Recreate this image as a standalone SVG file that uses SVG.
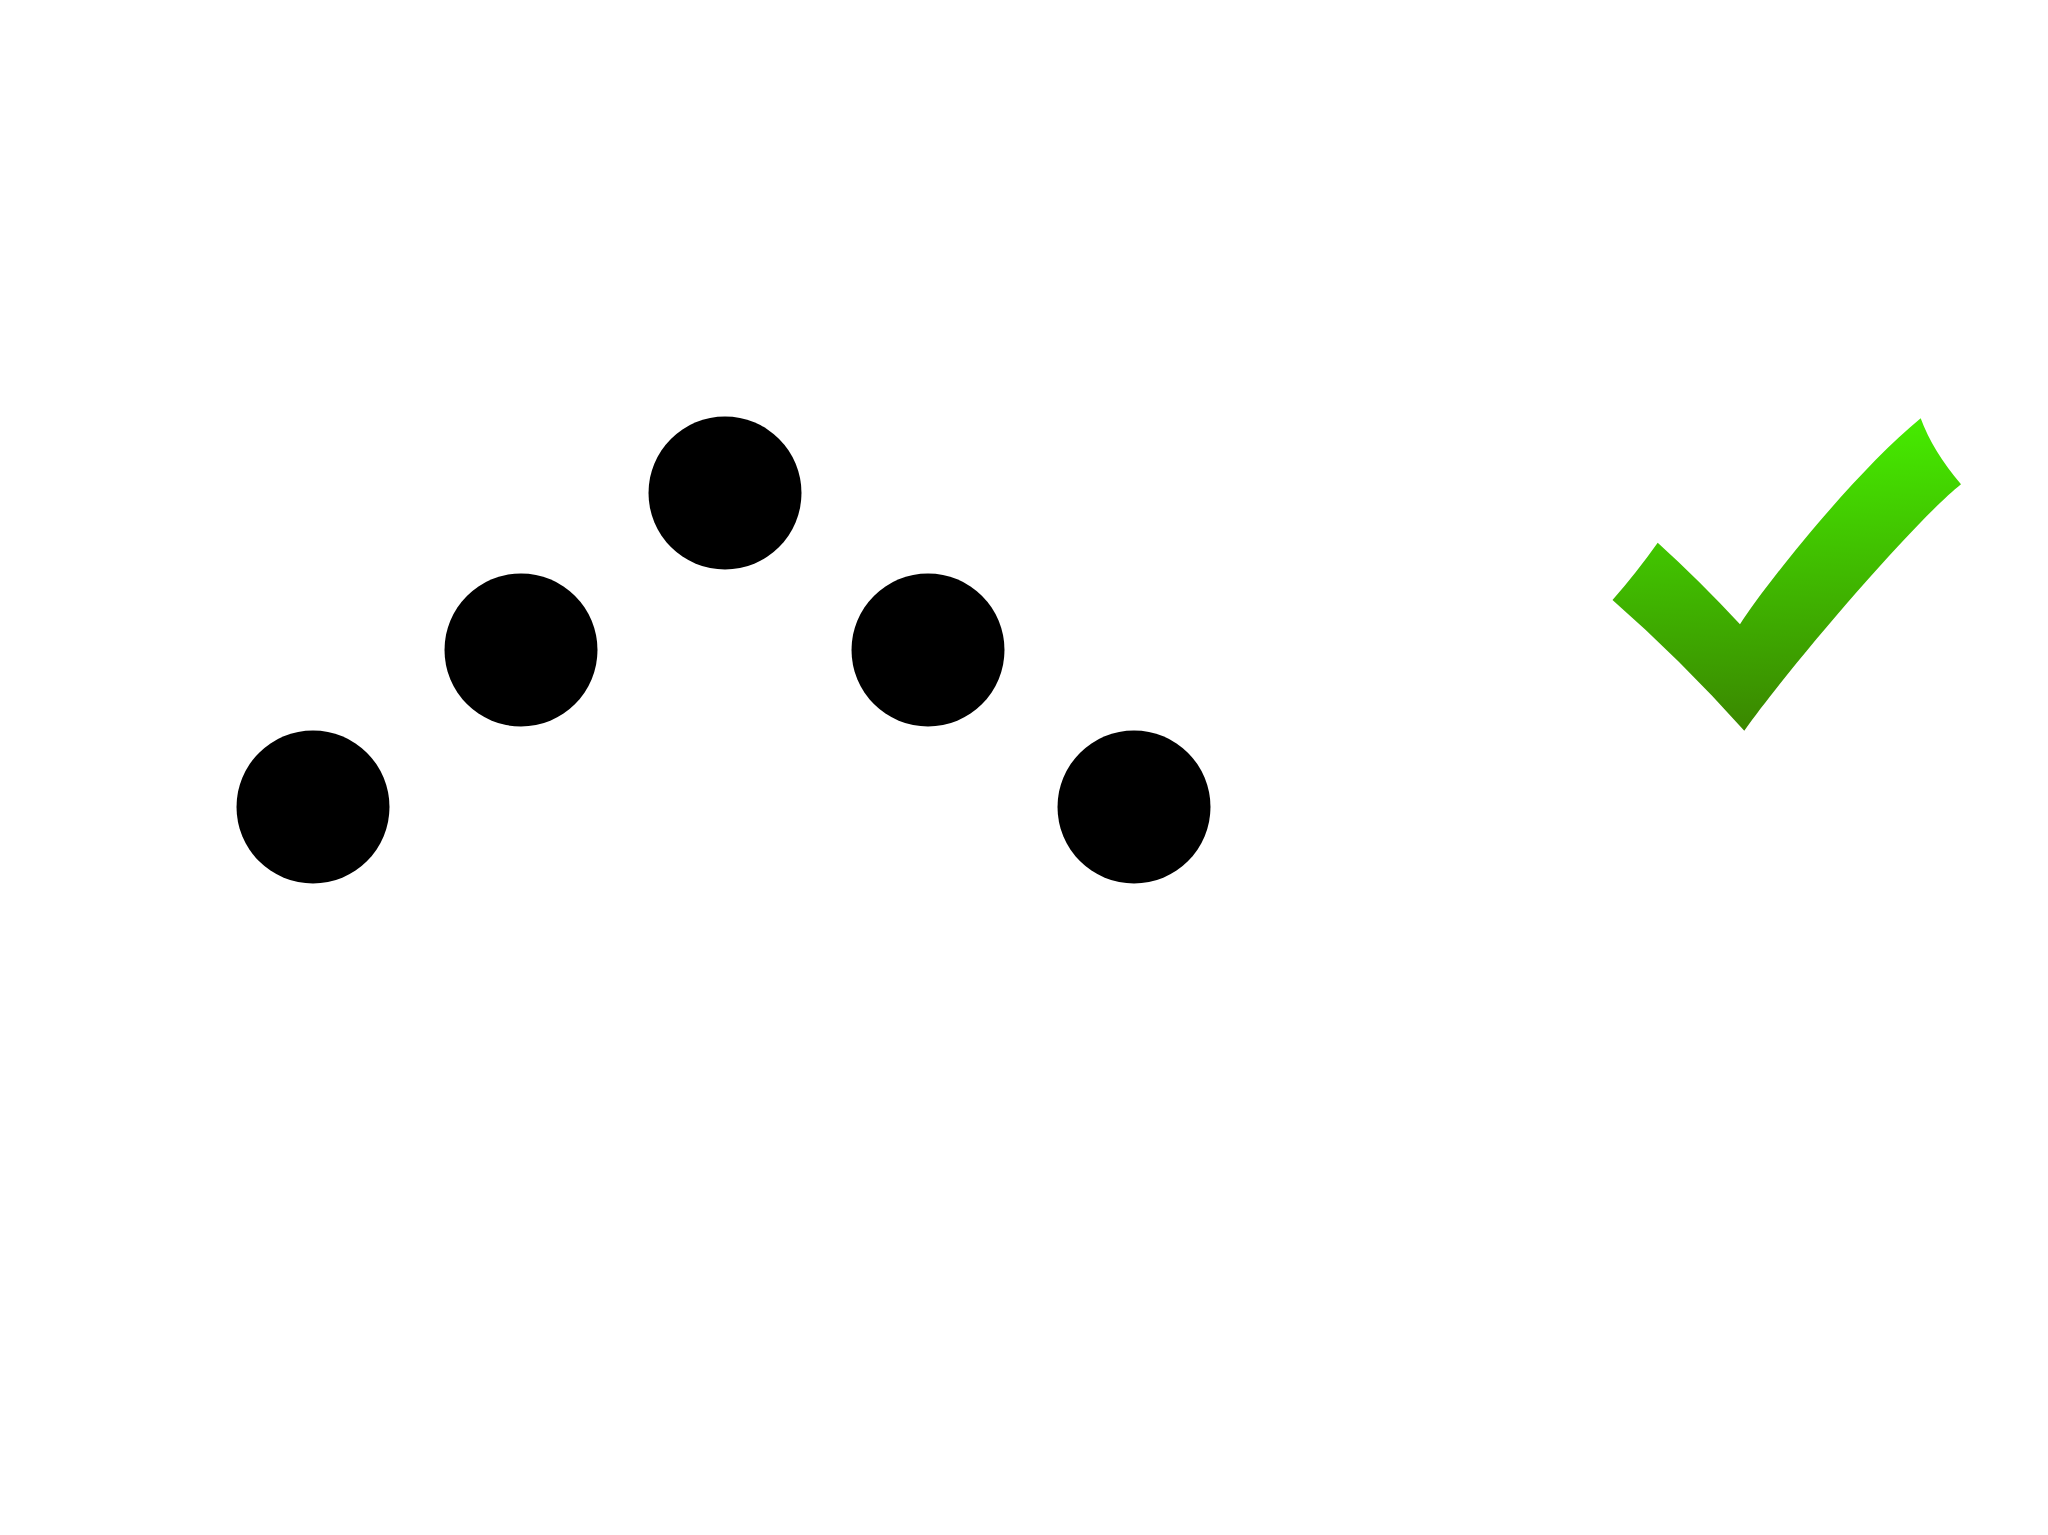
<svg xmlns="http://www.w3.org/2000/svg" width="2048" height="1535" viewBox="0 0 2048 1535">
<style>
.dot{fill:#000000}
</style>
<defs>
<linearGradient id="checkGrad" gradientUnits="userSpaceOnUse" x1="1785" y1="418" x2="1800" y2="731">
<stop offset="0" stop-color="#46ee00"/>
<stop offset="1" stop-color="#3a8600"/>
</linearGradient>
</defs>
<rect x="0" y="0" width="2048" height="1535" fill="#ffffff"/>
<g id="dot1"><circle class="dot" cx="313" cy="807" r="76.5"/></g>
<g id="dot2"><circle class="dot" cx="521" cy="650" r="76.5"/></g>
<g id="dot3"><circle class="dot" cx="725" cy="493" r="76.5"/></g>
<g id="dot4"><circle class="dot" cx="928" cy="650" r="76.5"/></g>
<g id="dot5"><circle class="dot" cx="1134" cy="807" r="76.5"/></g>
<g id="checkmark">
<path fill="url(#checkGrad)" d="M1657.7,542.7 Q1700,581 1740,624.3 C1765,585 1855,472 1920.7,418.3 Q1932.6,451 1961,484.3 C1915,521 1795,660 1744.3,730.7 Q1680,659 1612.5,600 Q1637,572 1657.7,542.7 Z"/>
</g>
<g id="connectors"></g>
</svg>
